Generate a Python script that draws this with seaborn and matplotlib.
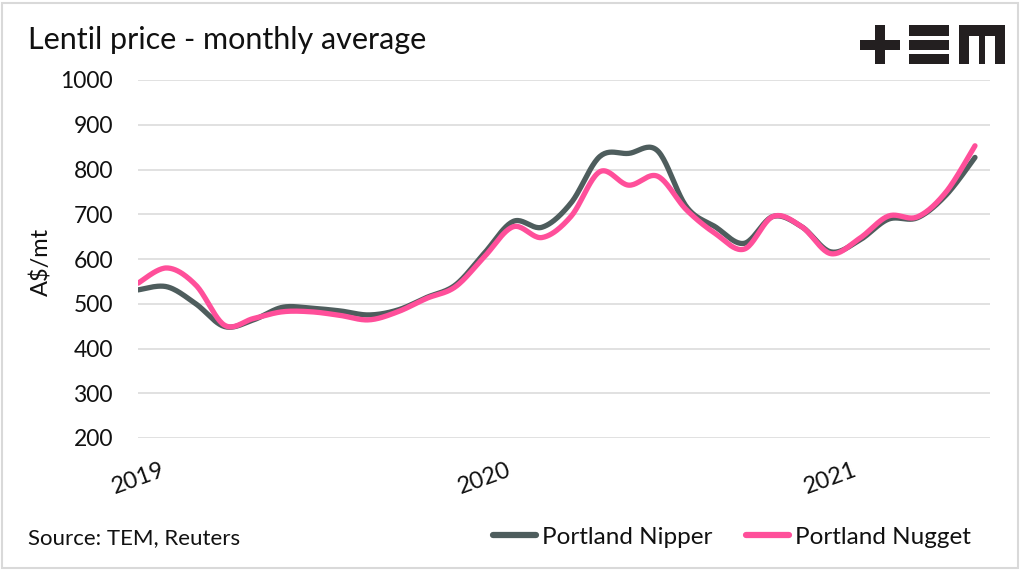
import numpy as np
import pandas as pd
import matplotlib
matplotlib.use("Agg")
import matplotlib.pyplot as plt
from matplotlib.patches import Rectangle
import seaborn as sns

# ---- data (monthly averages, A$/mt) ----
months = pd.date_range("2019-01-01", periods=30, freq="MS")
nipper = [531, 538, 500, 449, 464, 492, 490, 484, 475, 486,
          514, 542, 613, 684, 671, 725, 829, 836, 842, 717,
          672, 635, 695, 672, 616, 642, 689, 692, 743, 827]
nugget = [546, 580, 542, 452, 467, 482, 482, 474, 464, 482,
          512, 538, 605, 672, 648, 695, 795, 765, 785, 710,
          657, 622, 695, 672, 612, 646, 696, 694, 750, 853]
series_names = ["Portland Nipper", "Portland Nugget"]
colors = ["#4E5D5D", "#FF4F9A"]
yticks = [200, 300, 400, 500, 600, 700, 800, 900, 1000]
xtick_labels = ["2019", "2020", "2021"]

FONT = "Lato"


def smooth(xs, ys, n=24):
    """Excel-style smoothed line: cubic Bezier with Catmull-Rom control points."""
    xs = np.asarray(xs, float)
    ys = np.asarray(ys, float)
    px = np.concatenate([[xs[0]], xs, [xs[-1]]])
    py = np.concatenate([[ys[0]], ys, [ys[-1]]])
    outx, outy = [], []
    t = np.linspace(0, 1, n, endpoint=False)
    for i in range(len(xs) - 1):
        x0, y0 = px[i + 1], py[i + 1]
        x3, y3 = px[i + 2], py[i + 2]
        x1 = x0 + (px[i + 2] - px[i]) / 6
        y1 = y0 + (py[i + 2] - py[i]) / 6
        x2 = x3 - (px[i + 3] - px[i + 1]) / 6
        y2 = y3 - (py[i + 3] - py[i + 1]) / 6
        b0 = (1 - t) ** 3
        b1 = 3 * (1 - t) ** 2 * t
        b2 = 3 * (1 - t) * t ** 2
        b3 = t ** 3
        outx.extend(b0 * x0 + b1 * x1 + b2 * x2 + b3 * x3)
        outy.extend(b0 * y0 + b1 * y1 + b2 * y2 + b3 * y3)
    outx.append(xs[-1])
    outy.append(ys[-1])
    return np.array(outx), np.array(outy)


sns.set_theme(style="white")
plt.rcParams["font.family"] = [FONT, "DejaVu Sans"]

fig = plt.figure(figsize=(10.24, 5.70), dpi=100)
fig.patch.set_facecolor("white")
ax = fig.add_axes([138 / 1024, 1 - 438 / 570, (990 - 138) / 1024, (438 - 80) / 570])

idx = np.arange(len(months))
frames = []
for name, vals in zip(series_names, [nipper, nugget]):
    sx, sy = smooth(idx, vals)
    frames.append(pd.DataFrame({"x": sx, "price": sy, "series": name}))
df = pd.concat(frames, ignore_index=True)

sns.lineplot(data=df, x="x", y="price", hue="series", hue_order=series_names,
             palette=colors, linewidth=3.8, sort=False, estimator=None,
             ax=ax, legend=False, solid_capstyle="round")

ax.set_ylim(200, 1000)
ax.set_xlim(0, 29.52)
ax.set_yticks(yticks)
ax.set_yticklabels([str(v) for v in yticks], fontsize=16.5, color="#111111")
xt = [i for i, m in enumerate(months) if m.month == 1]
ax.set_xticks(xt)
ax.set_xticklabels(xtick_labels, rotation=20, ha="center", fontsize=17, color="#111111")
ax.tick_params(axis="y", length=0, pad=18)
ax.tick_params(axis="x", length=0, pad=15)
ax.grid(axis="y", color="#d9d9d9", linewidth=1.1)
ax.grid(axis="x", visible=False)
for s in ax.spines.values():
    s.set_visible(False)
ax.set_xlabel("")
ax.set_ylabel("")

# titles / labels
fig.text(28 / 1024, 1 - 49 / 570, "Lentil price - monthly average", fontsize=22,
         color="#111111", va="baseline", ha="left")
fig.text(41 / 1024, 1 - 262 / 570, "A$/mt", rotation=90, fontsize=17,
         color="#111111", va="center", ha="center")
fig.text(28 / 1024, 1 - 538 / 570, "Source: TEM, Reuters", fontsize=16,
         color="#111111", va="center", ha="left")

# legend
handles = [plt.Line2D([], [], color=c, linewidth=4.5, solid_capstyle="round") for c in colors]
fig.legend(handles, series_names, loc="center", bbox_to_anchor=(732 / 1024, 1 - 537 / 570),
           ncol=2, frameon=False, fontsize=17.5, handlelength=1.75, handletextpad=0.25,
           columnspacing=1.4, labelcolor="#111111")

# TEM logo (graphic)
logo_c = "#231f20"
def prect(x0, y0, x1, y1):
    fig.patches.append(Rectangle((x0 / 1024, 1 - y1 / 570), (x1 - x0) / 1024, (y1 - y0) / 570,
                                 transform=fig.transFigure, facecolor=logo_c, edgecolor="none"))
prect(859.7, 40, 899.7, 50)
prect(874.7, 25, 884.7, 64.3)
prect(908.7, 25, 948.7, 36)
prect(908.7, 40, 948.7, 50)
prect(908.7, 54, 948.7, 64.3)
prect(958.7, 25, 1004.7, 36)
prect(958.7, 25, 968.7, 64.3)
prect(978.7, 25, 985.3, 64.3)
prect(994.7, 25, 1004.7, 64.3)

# outer frame
fig.patches.append(Rectangle((1.5 / 1024, 2 / 570), 1016 / 1024, 565.5 / 570,
                             transform=fig.transFigure, facecolor="none",
                             edgecolor="#d9d9d9", linewidth=1.5))

fig.savefig("out.png", dpi=100, facecolor="white")
